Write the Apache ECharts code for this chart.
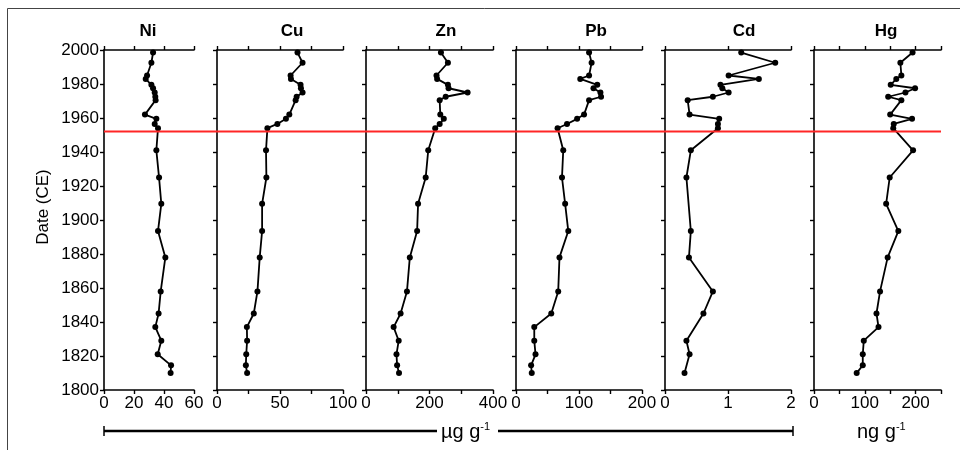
<!DOCTYPE html>
<html>
<head>
<meta charset="utf-8">
<script src="https://cdn.jsdelivr.net/npm/echarts@6/dist/echarts.min.js"></script>
<style>
  html, body { margin: 0; padding: 0; background: #fff; }
  #chart { width: 960px; height: 450px; }
</style>
</head>
<body>
<div id="chart"></div>
<script>
// sample dates (CE), shared by all elements
const years = [1998.5, 1992.5, 1985, 1983, 1979.5, 1977.5, 1975, 1972.5, 1970.5, 1962, 1959.5, 1956.5, 1954,
               1941, 1925, 1909.5, 1893.5, 1878, 1858, 1845, 1837, 1829, 1821, 1814.5, 1810]

const ni = [32.7, 31.6, 28.7, 27.8, 31.6, 32.7, 33.8, 34.2, 34.4, 27.3, 34.9, 33.8, 36,
            34.9, 36.7, 38.2, 36, 40.9, 37.8, 36.4, 34.2, 38.2, 35.8, 44.7, 44.4]
const cu = [63.9, 67.9, 58.4, 58.7, 66.3, 66.6, 67.9, 63.2, 62.4, 57.4, 54.7, 47.9, 40,
            38.9, 39.2, 35.8, 35.8, 33.9, 32.1, 29.2, 23.7, 23.9, 23.2, 22.9, 23.9]
const zn = [236, 258, 222, 224, 258, 260, 320, 251, 232, 234, 245, 232, 218,
            196, 188, 164, 161, 138, 129, 109, 87, 103, 96, 98, 104]
const pb = [116, 120, 116, 102, 129, 123, 134, 135, 116, 108, 97, 81, 66,
            75, 73, 78, 83, 69, 67, 56, 29, 29, 31, 24, 25]
const cd = [1.21, 1.75, 1.01, 1.49, 0.88, 0.91, 1.01, 0.76, 0.36, 0.39, 0.86, 0.84, 0.84,
            0.41, 0.34, null, 0.41, 0.38, 0.76, 0.61, null, 0.34, 0.39, null, 0.31]
const hg = [194, 170, 172, 162, 151, 199, 180, 146, 172, 150, 193, 157, 156,
            195, 149, 142, 166, 145, 130, 123, 127, 98, 96, 96, 84]

const elements = ['Ni', 'Cu', 'Zn', 'Pb', 'Cd', 'Hg']
const values = [ni, cu, zn, pb, cd, hg]
const xMax = [60, 100, 400, 200, 2, 250]
const xTick = [20, 25, 100, 50, 1, 50]
const xLabelStep = [20, 50, 200, 100, 1, 100]
const yearTicks = [1800, 2000, 20]
const boundaryYear = 1952

// layout
const panelLeft = [104, 217, 366, 516, 665, 814]
const panelWidth = [90, 126, 127, 126, 126, 127]
const titleX = [148, 292, 446, 596, 744, 886]
const plotTop = 50
const plotHeight = 340
const font = "'Liberation Sans', Arial, sans-serif"

const chart = echarts.init(document.getElementById('chart'), null, {renderer: 'canvas'})

const axisLine = {lineStyle: {color: '#000', width: 1.6}}
const axisTick = {inside: false, length: 4, lineStyle: {color: '#000', width: 1.4}}

const grid = []
const xAxis = []
const yAxis = []
const series = []

elements.forEach((name, i) => {
    grid.push({left: panelLeft[i], top: plotTop, width: panelWidth[i], height: plotHeight})

    const step = xLabelStep[i]
    const base = {
        type: 'value', gridIndex: i, min: 0, max: xMax[i], interval: xTick[i],
        splitLine: {show: false}, axisLine: axisLine, axisTick: axisTick
    }
    xAxis.push(Object.assign({}, base, {
        position: 'bottom',
        axisLabel: {
            color: '#000', fontSize: 17, fontFamily: font, margin: 5,
            showMinLabel: true, showMaxLabel: true,
            formatter: v => Math.abs(v / step - Math.round(v / step)) < 1e-6 ? String(v) : ''
        }
    }))
    xAxis.push(Object.assign({}, base, {position: 'top', axisLabel: {show: false}}))

    yAxis.push({
        type: 'value', gridIndex: i, min: yearTicks[0], max: yearTicks[1], interval: yearTicks[2],
        splitLine: {show: false}, axisLine: axisLine, axisTick: axisTick,
        axisLabel: {show: i === 0, color: '#000', fontSize: 17, fontFamily: font, margin: 5,
                    formatter: v => String(v)}
    })

    const data = []
    years.forEach((y, k) => {
        if (values[i][k] != null) data.push([values[i][k], y])
    })
    series.push({
        name: name, type: 'line', xAxisIndex: 2 * i, yAxisIndex: i, data: data,
        symbol: 'circle', symbolSize: 6, itemStyle: {color: '#000'},
        lineStyle: {color: '#000', width: 1.8}, animation: false
    })
})

// overlay grid for the red boundary line across all panels
grid.push({left: panelLeft[0], top: plotTop, width: panelLeft[5] + panelWidth[5] - panelLeft[0], height: plotHeight})
xAxis.push({type: 'value', gridIndex: 6, min: 0, max: 1, show: false})
yAxis.push({type: 'value', gridIndex: 6, min: yearTicks[0], max: yearTicks[1], show: false})
series.push({
    type: 'line', xAxisIndex: 12, yAxisIndex: 6, data: [[0, boundaryYear], [1, boundaryYear]],
    symbol: 'none', lineStyle: {color: '#ff2626', width: 2}, z: 5, animation: false
})

const titleText = elements.map((name, i) => ({
    type: 'text', x: titleX[i], y: 31,
    style: {text: name, font: 'bold 17px ' + font, fill: '#000', textAlign: 'center', textVerticalAlign: 'middle'}
}))

const unitRich = {
    a: {fontSize: 20, fontFamily: font, fill: '#000', lineHeight: 22},
    s: {fontSize: 11, fontFamily: font, fill: '#000', lineHeight: 11, verticalAlign: 'top'}
}

const barY = 431
const graphic = [
    {type: 'rect', shape: {x: 7.5, y: 8.5, width: 1000, height: 500}, style: {fill: 'none', stroke: '#444', lineWidth: 1}},
    {type: 'text', x: 43, y: 207, rotation: Math.PI / 2,
     style: {text: 'Date (CE)', font: '17px ' + font, fill: '#000', textAlign: 'center', textVerticalAlign: 'middle'}},
    {type: 'line', shape: {x1: 104, y1: barY, x2: 437, y2: barY}, style: {stroke: '#000', lineWidth: 2.5}},
    {type: 'line', shape: {x1: 498, y1: barY, x2: 793, y2: barY}, style: {stroke: '#000', lineWidth: 2.5}},
    {type: 'line', shape: {x1: 104, y1: barY - 5, x2: 104, y2: barY + 5}, style: {stroke: '#000', lineWidth: 1.5}},
    {type: 'line', shape: {x1: 793, y1: barY - 5, x2: 793, y2: barY + 5}, style: {stroke: '#000', lineWidth: 1.5}},
    {type: 'text', x: 441, y: barY + 1, style: {text: '{a|µg g}{s|-1}', rich: unitRich, textVerticalAlign: 'middle'}},
    {type: 'text', x: 857, y: barY + 1, style: {text: '{a|ng g}{s|-1}', rich: unitRich, textVerticalAlign: 'middle'}}
].concat(titleText)

chart.setOption({
    animation: false,
    backgroundColor: '#fff',
    grid: grid,
    xAxis: xAxis,
    yAxis: yAxis,
    series: series,
    graphic: graphic
})
</script>
</body>
</html>
